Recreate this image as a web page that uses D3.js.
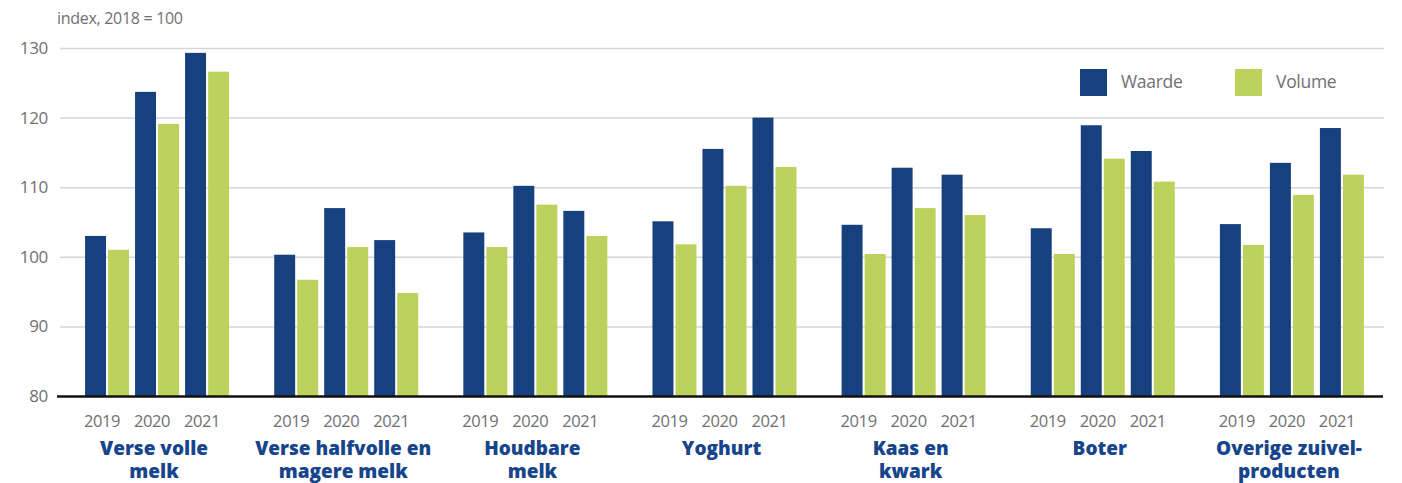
<!DOCTYPE html>
<html lang="nl">
<head>
<meta charset="utf-8">
<script src="https://cdn.jsdelivr.net/npm/d3@7"></script>
<style>
  html, body { margin: 0; padding: 0; background: #fff; }
  svg { display: block; }
  text { font-family: "Open Sans", "DejaVu Sans", sans-serif; }
</style>
</head>
<body>
<svg id="chart" width="1402" height="483"></svg>
<script>
// Zuivelproducten: waarde- en volume-index per jaar (2018 = 100)
const categories = [
  ["Verse volle", "melk"],
  ["Verse halfvolle en", "magere melk"],
  ["Houdbare", "melk"],
  ["Yoghurt"],
  ["Kaas en", "kwark"],
  ["Boter"],
  ["Overige zuivel-", "producten"]
];
const years = ["2019", "2020", "2021"];
const seriesNames = ["Waarde", "Volume"];

// one row per category, one value per year
const waarde = [
  [103.0, 123.7, 129.3],
  [100.3, 107.0, 102.4],
  [103.5, 110.2, 106.6],
  [105.1, 115.5, 120.0],
  [104.6, 112.8, 111.8],
  [104.1, 118.9, 115.2],
  [104.7, 113.5, 118.5]
];
const volume = [
  [101.0, 119.1, 126.6],
  [96.7, 101.4, 94.8],
  [101.4, 107.5, 103.0],
  [101.8, 110.2, 112.9],
  [100.4, 107.0, 106.0],
  [100.4, 114.1, 110.8],
  [101.7, 108.9, 111.8]
];
const yTicks = [80, 90, 100, 110, 120, 130];
const axisTitle = "index, 2018 = 100";

const colors = { Waarde: "#17407f", Volume: "#bdd25d" };
const grey = "#707070";

const svg = d3.select("#chart");
const plotLeft = 60, plotRight = 1384, plotTop = 48, plotBottom = 396;

const y = d3.scaleLinear().domain([80, 130]).range([plotBottom, plotTop]);
const catIdx = d3.range(categories.length);
const x0 = d3.scaleBand().domain(catIdx).range([plotLeft, plotRight]).paddingInner(0).paddingOuter(0);
const x1 = d3.scaleBand().domain(years).range([0, x0.bandwidth()])
  .paddingInner(0.12).paddingOuter(0.4513).align(0.555);
const x2 = d3.scaleBand().domain(seriesNames).range([0, x1.bandwidth()]).paddingInner(0.09);

// gridlines
const grid = svg.append("g")
  .attr("transform", `translate(${plotLeft},0)`)
  .call(d3.axisLeft(y).tickValues(yTicks.filter(t => t > 80)).tickSize(-(plotRight - plotLeft)).tickFormat(""));
grid.select(".domain").remove();
grid.selectAll("line").attr("stroke", "#d6d6d6").attr("stroke-width", 1.5);

// y tick labels
const yAxis = svg.append("g")
  .attr("transform", `translate(${plotLeft},0)`)
  .call(d3.axisLeft(y).tickValues(yTicks).tickSize(0).tickPadding(12).tickFormat(d3.format("d")));
yAxis.select(".domain").remove();
yAxis.selectAll("text")
  .attr("fill", grey).style("font-size", "17px").style("letter-spacing", "-0.3px");

// axis title
svg.append("text").attr("x", 57).attr("y", 24)
  .attr("fill", grey).style("font-size", "16px").style("letter-spacing", "-0.3px")
  .text(axisTitle);

// bars
const rows = [];
catIdx.forEach(c => years.forEach((yr, j) => {
  rows.push({ c, yr, s: "Waarde", v: waarde[c][j] });
  rows.push({ c, yr, s: "Volume", v: volume[c][j] });
}));
svg.append("g").selectAll("rect").data(rows).join("rect")
  .attr("x", d => x0(d.c) + x1(d.yr) + x2(d.s))
  .attr("width", x2.bandwidth())
  .attr("y", d => y(d.v))
  .attr("height", d => y(80) - y(d.v))
  .attr("fill", d => colors[d.s]);

// baseline
svg.append("line")
  .attr("x1", plotLeft - 3).attr("x2", plotRight - 1)
  .attr("y1", y(80) + 0.5).attr("y2", y(80) + 0.5)
  .attr("stroke", "#111").attr("stroke-width", 2.5);

// year labels
const yearLabels = [];
catIdx.forEach(c => years.forEach(yr => yearLabels.push({ c, yr })));
svg.append("g").selectAll("text").data(yearLabels).join("text")
  .attr("x", d => x0(d.c) + x1(d.yr) + x1.bandwidth() / 2 - 5)
  .attr("y", 427)
  .attr("text-anchor", "middle")
  .attr("fill", grey).style("font-size", "16.5px").style("letter-spacing", "-0.4px")
  .text(d => d.yr);

// category labels
const catG = svg.append("g").selectAll("text").data(catIdx).join("text")
  .attr("text-anchor", "middle")
  .attr("fill", "#17458c")
  .style("font-size", "19px").style("font-weight", 800)
  .attr("transform", c => `translate(${x0(c) + x1("2020") + x1.bandwidth() / 2 - 3},0)`);
catG.selectAll("tspan").data(c => categories[c]).join("tspan")
  .attr("x", 0)
  .attr("y", (d, i) => 455 + i * 22.5)
  .text(d => d);

// legend
const legend = svg.append("g");
const legendItems = [{ s: "Waarde", x: 1080 }, { s: "Volume", x: 1235 }];
legend.selectAll("rect").data(legendItems).join("rect")
  .attr("x", d => d.x).attr("y", 69).attr("width", 27).attr("height", 27)
  .attr("fill", d => colors[d.s]);
legend.selectAll("text").data(legendItems).join("text")
  .attr("x", d => d.x + 41).attr("y", 88)
  .attr("fill", grey).style("font-size", "17.5px").style("letter-spacing", "-0.3px")
  .text(d => d.s);
</script>
</body>
</html>
